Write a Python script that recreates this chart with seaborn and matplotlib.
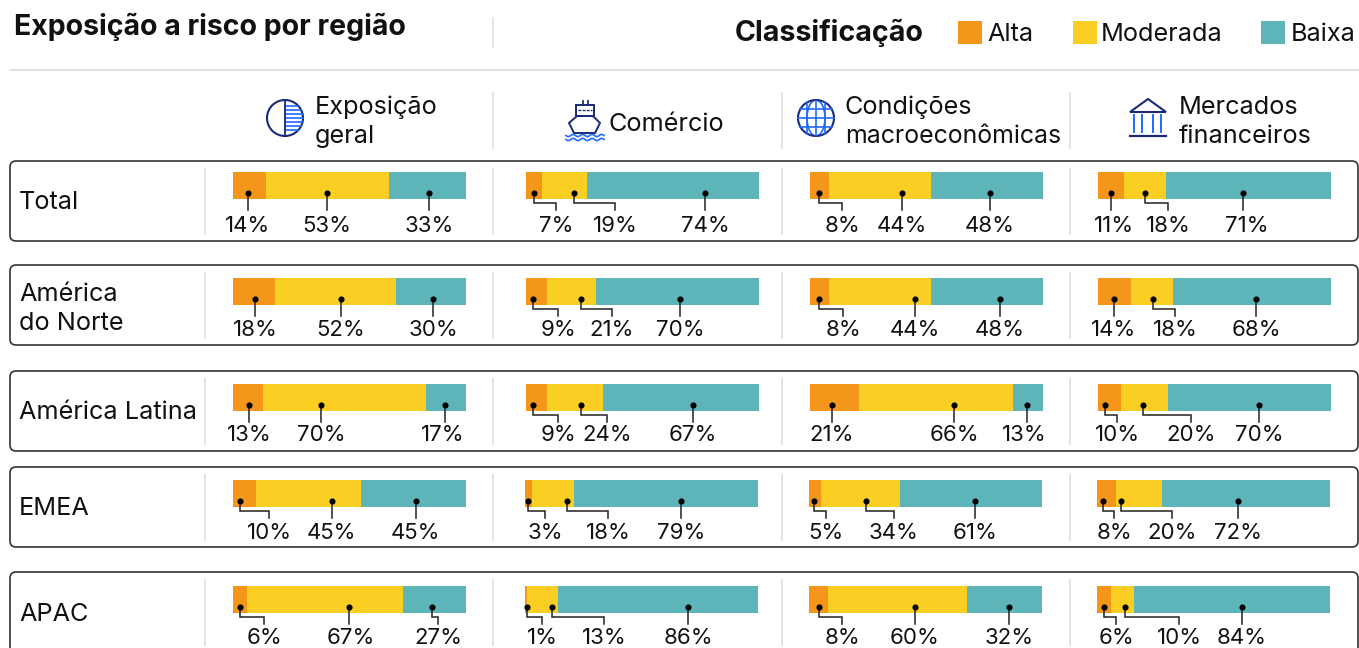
import numpy as np
import pandas as pd
import seaborn as sns
import matplotlib
matplotlib.use('Agg')
import matplotlib.pyplot as plt
from matplotlib.patches import Circle, Ellipse, FancyBboxPatch, Polygon, Rectangle

# dados
regioes = ['Total', 'América\ndo Norte', 'América Latina', 'EMEA', 'APAC']
temas = ['Exposição\ngeral', 'Comércio', 'Condições\nmacroeconômicas', 'Mercados\nfinanceiros']
niveis = ['Alta', 'Moderada', 'Baixa']
cores = ['#F3961A', '#FBCE24', '#5DB5BA']

alta = [[14, 7, 8, 11], [18, 9, 8, 14], [13, 9, 21, 10], [10, 3, 5, 8], [6, 1, 8, 6]]
moderada = [[53, 19, 44, 18], [52, 21, 44, 18], [70, 24, 66, 20], [45, 18, 34, 20], [67, 13, 60, 10]]
baixa = [[33, 74, 48, 71], [30, 70, 48, 68], [17, 67, 13, 70], [45, 79, 61, 72], [27, 86, 32, 84]]

# layout em pixels
W, H = 1359, 648
FONTE = 'Inter'
NAVY = '#1B2A78'
AZUL = '#1F6BFF'
CINZA = '#DDDDDD'
col_x = [[233, 526, 810, 1098]] * 3 + [[233, 525, 809, 1097]] * 2
bar_w = 233
bar_h = 27
bar_topo = [172, 278, 384, 480, 586]
caixa_topo = [161, 265, 371, 467, 572]
caixa_alto = [80, 80, 80, 80, 110]
base_rotulo = [60, 58, 57, 59, 58]
# posicao x de cada ponto e de cada rotulo (a linha de ligacao vai de um ao outro)
pontos_px = [
    [[248, 327, 429], [534, 574, 705], [819, 902, 990], [1111, 1145, 1243]],
    [[255, 341, 433], [533, 581, 680], [819, 915, 1000], [1114, 1153, 1256]],
    [[249, 321, 445], [533, 581, 693], [832, 954, 1027], [1105, 1143, 1259]],
    [[240, 332, 416], [528, 567, 681], [814, 866, 975], [1103, 1121, 1238]],
    [[240, 349, 432], [527, 552, 688], [819, 915, 1009], [1104, 1125, 1242]],
]
rotulos_px = [
    [[248, 327, 429], [556, 615, 705], [842, 902, 990], [1114, 1168, 1247]],
    [[255, 341, 433], [558, 612, 680], [843, 915, 1000], [1114, 1175, 1256]],
    [[249, 321, 443], [558, 607, 693], [832, 954, 1024], [1117, 1191, 1259]],
    [[269, 332, 416], [545, 608, 681], [826, 894, 975], [1114, 1172, 1238]],
    [[264, 351, 438], [542, 604, 688], [842, 915, 1009], [1116, 1179, 1242]],
]

plt.rcParams['font.family'] = [FONTE, 'DejaVu Sans']
fig = plt.figure(figsize=(W / 100, H / 100), dpi=100)
fundo = fig.add_axes([0, 0, 1, 1])
fundo.set_xlim(0, W)
fundo.set_ylim(H, 0)
fundo.axis('off')


def texto(x, y, s, size=18.2, weight='normal', ha='left', ax=fundo):
    ax.text(x, y, s, fontsize=size, fontweight=weight, ha=ha, va='baseline', color='#111111')


def vline(x, y0, y1):
    fundo.plot([x, x], [y0, y1], color=CINZA, lw=1.1, solid_capstyle='butt')


# cabecalho
texto(14, 35, 'Exposição a risco por região', size=20.5, weight='bold')
texto(735, 41, 'Classificação', size=20.6, weight='bold')
vline(493, 17, 48)
fundo.plot([10, W], [70, 70], color=CINZA, lw=1.2)
for x0, xt, nome, cor in zip([958, 1073, 1261], [987, 1101, 1291], niveis, cores):
    fundo.add_patch(Rectangle((x0, 21), 24, 23, color=cor, lw=0))
    texto(xt, 41, nome)

for x in [493, 782, 1070]:
    vline(x, 92, 149)
texto(315, 114, 'Exposição')
texto(315, 143, 'geral')
texto(608, 131, 'Comércio')
texto(845, 114, 'Condições')
texto(845, 143, 'macroeconômicas', size=17.9)
texto(1179, 114, 'Mercados')
texto(1179, 143, 'financeiros')

# icone exposicao
for yy in np.arange(106, 133, 4):
    meia = np.sqrt(18 ** 2 - (yy - 118) ** 2)
    fundo.plot([285, 285 + meia], [yy, yy], color=AZUL, lw=1.2)
fundo.plot([285, 285], [100, 136], color=NAVY, lw=1.3)
fundo.add_patch(Circle((285, 118), 18, fill=False, ec=NAVY, lw=1.5))

# icone navio
fundo.add_patch(Polygon([(569, 123), (577, 116), (593, 116), (600, 123), (595, 133), (574, 133)],
                        fill=False, ec=NAVY, lw=1.4))
fundo.add_patch(Rectangle((576, 105), 18, 11, fill=False, ec=NAVY, lw=1.4))
fundo.plot([583, 583], [101, 105], color=NAVY, lw=1.3)
fundo.plot([588, 588], [101, 105], color=NAVY, lw=1.3)
fundo.plot([578, 592], [110, 110], color=NAVY, lw=1, ls=(0, (2, 1)))
for yy in [135.5, 139.5]:
    xx = np.linspace(566, 604, 60)
    fundo.plot(xx, yy + 1.1 * np.sin((xx - 566) * 2 * np.pi / 9.5), color=AZUL, lw=1.2)

# icone globo
for x in [807, 816, 825]:
    fundo.plot([x, x], [118 - np.sqrt(324 - (x - 816) ** 2), 118 + np.sqrt(324 - (x - 816) ** 2)], color=AZUL, lw=1.2)
for yy in [109, 118, 127]:
    meia = np.sqrt(324 - (yy - 118) ** 2)
    fundo.plot([816 - meia, 816 + meia], [yy, yy], color=AZUL, lw=1.2)
fundo.add_patch(Ellipse((816, 118), 18, 36, fill=False, ec=AZUL, lw=1.2))
fundo.add_patch(Circle((816, 118), 18, fill=False, ec=NAVY, lw=1.5))

# icone banco
fundo.add_patch(Polygon([(1130, 112), (1148, 99), (1166, 112)], fill=False, ec=NAVY, lw=1.5))
for x in [1134, 1142, 1153, 1161]:
    fundo.plot([x, x], [115, 132], color=AZUL, lw=1.4)
fundo.plot([1130, 1166], [136, 136], color=NAVY, lw=1.6)

# linhas da tabela
for topo, alto_cx in zip(caixa_topo, caixa_alto):
    fundo.add_patch(FancyBboxPatch((10, topo), 1348, alto_cx, boxstyle='round,pad=0,rounding_size=6',
                                   fill=False, ec='#333333', lw=1.2, zorder=1))
    for x in [205, 493, 782, 1070]:
        vline(x, topo + 7, min(topo + 74, H))
texto(19, 209, regioes[0])
texto(19, 301, 'América')
texto(19, 330, 'do Norte')
texto(19, 419, regioes[2])
texto(19, 515, regioes[3])
texto(19, 621, regioes[4])

# barras
for i, regiao in enumerate(regioes):
    for j, tema in enumerate(temas):
        valores = [alta[i][j], moderada[i][j], baixa[i][j]]
        acum = np.cumsum(valores)
        df = pd.DataFrame({'regiao': regiao, 'nivel': niveis, 'acum': acum})
        # eixo: 1 unidade de y = altura da barra, barra centrada em 0
        alto = 70
        ax = fig.add_axes([col_x[i][j] / W, 1 - (bar_topo[i] + alto) / H, bar_w / W, alto / H])
        ax.patch.set_alpha(0)
        sns.barplot(data=df, x='acum', y='regiao', hue='nivel', hue_order=niveis[::-1],
                    palette=dict(zip(niveis, cores)), dodge=False, width=1, saturation=1,
                    legend=False, ax=ax, orient='h')
        ax.set_xlim(0, 100)
        ax.set_ylim(-0.5 + alto / bar_h, -0.5)
        ax.axis('off')

        for v, p, r in zip(valores, pontos_px[i][j], rotulos_px[i][j]):
            xp = (p - col_x[i][j]) * 100 / bar_w
            xr = (r - col_x[i][j]) * 100 / bar_w
            if abs(r - p) < 5:
                xs, ys = [xp, xp], [0.28, 0.91]
            else:
                xs, ys = [xp, xp, xr, xr], [0.28, 0.65, 0.65, 0.91]
            ax.plot(xs, ys, color='#222222', lw=1.1, clip_on=False, solid_joinstyle='miter')
            ax.plot([xp], [0.28], 'o', color='black', ms=3.4, clip_on=False)
            ax.text(xr, base_rotulo[i] / bar_h - 0.5, '%d%%' % v, ha='center', va='baseline',
                    fontsize=16, color='#111111', clip_on=False)

fig.savefig('out.png', dpi=100)
